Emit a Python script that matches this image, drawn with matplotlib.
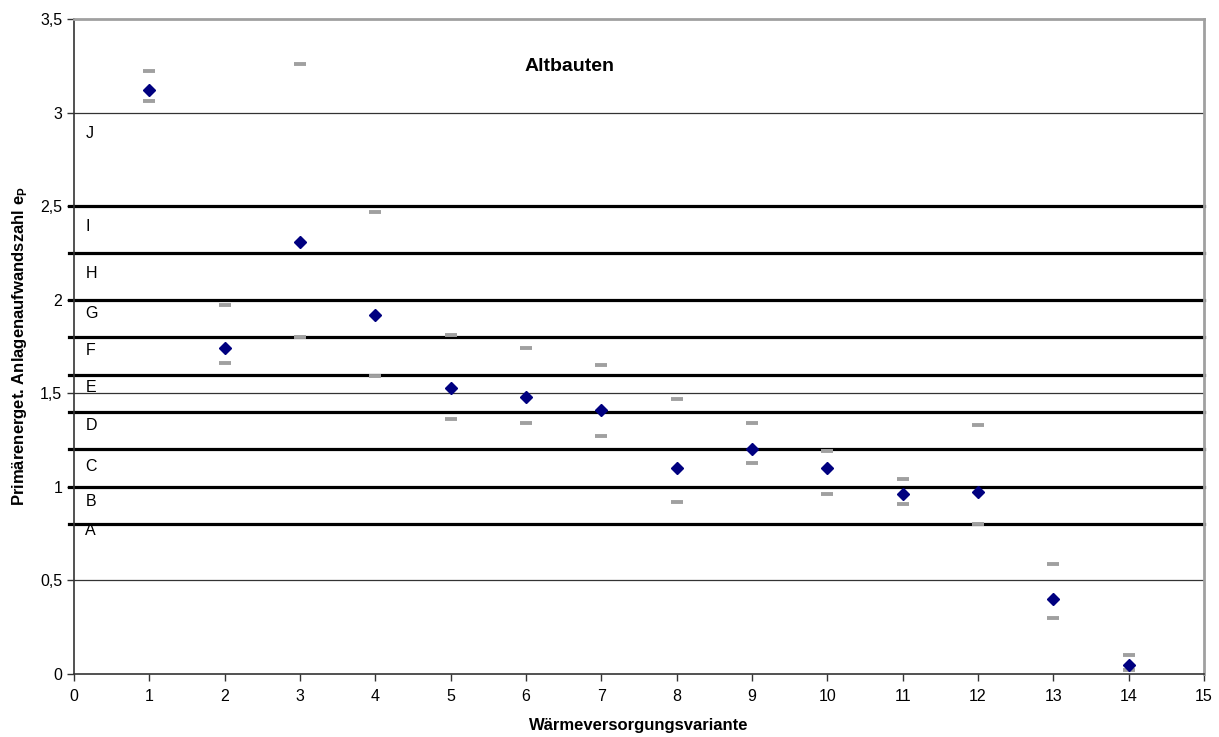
import matplotlib.pyplot as plt

plt.rcParams["font.family"] = ["Liberation Sans", "DejaVu Sans"]
plt.rcParams["mathtext.fontset"] = "custom"
plt.rcParams["mathtext.bf"] = "Liberation Sans:bold"

# Wärmeversorgungsvarianten and primary energy factors
variants = [1, 2, 3, 4, 5, 6, 7, 8, 9, 10, 11, 12, 13, 14]
ep_mean = [3.12, 1.74, 2.31, 1.92, 1.53, 1.48, 1.41, 1.10, 1.20, 1.10, 0.96, 0.97, 0.40, 0.05]
ep_max = [3.22, 1.97, 3.26, 2.47, 1.81, 1.74, 1.65, 1.47, 1.34, 1.19, 1.04, 1.33, 0.59, 0.10]
ep_min = [3.06, 1.66, 1.80, 1.59, 1.36, 1.34, 1.27, 0.92, 1.13, 0.96, 0.91, 0.80, 0.30, 0.02]

# efficiency class limits and labels
class_limits = [0.8, 1.0, 1.2, 1.4, 1.6, 1.8, 2.0, 2.25, 2.5]
class_names = ["A", "B", "C", "D", "E", "F", "G", "H", "I", "J"]
class_label_y = [0.765, 0.92, 1.11, 1.33, 1.53, 1.73, 1.925, 2.14, 2.39, 2.89]

fig = plt.figure(figsize=(12.19, 7.37), dpi=100)
ax = fig.add_axes([74 / 1219, 63 / 737, 1130 / 1219, 655 / 737])

ax.set_xlim(0, 15)
ax.set_ylim(0, 3.5)
ax.set_xticks(range(0, 16))
ax.set_yticks([0, 0.5, 1, 1.5, 2, 2.5, 3, 3.5])
ax.set_yticklabels(["0", "0,5", "1", "1,5", "2", "2,5", "3", "3,5"])
ax.tick_params(direction="out", length=5, width=1, labelsize=11.5, color="#333333")
ax.tick_params(axis="x", pad=6)

# thin grid
for y in [0.5, 1, 1.5, 2, 2.5, 3]:
    ax.axhline(y, color="#333333", lw=0.9, zorder=1)

# thick class limit lines
for y in class_limits:
    ax.axhline(y, xmin=-0.004, color="black", lw=2.3, zorder=2, clip_on=False)

for name, y in zip(class_names, class_label_y):
    ax.text(0.15, y, name, fontsize=11.5, va="center", ha="left")

ax.plot(variants, ep_max, ls="none", marker="_", ms=8, mew=2.8, color="#a0a0a0", zorder=3)
ax.plot(variants, ep_min, ls="none", marker="_", ms=8, mew=2.8, color="#a0a0a0", zorder=3)
ax.plot(variants, ep_mean, ls="none", marker="D", ms=6.5, color="#000080", zorder=4)

ax.text(6.58, 3.244, "Altbauten", fontsize=14, fontweight="bold", ha="center", va="center")

ax.set_xlabel("Wärmeversorgungsvariante", fontsize=12, fontweight="bold", labelpad=10)
ax.set_ylabel(r"Primärenerget. Anlagenaufwandszahl e$_\mathbf{P}$", fontsize=12,
              fontweight="bold", labelpad=8)

for side in ["top", "right"]:
    ax.spines[side].set_color("#a0a0a0")
    ax.spines[side].set_linewidth(2)
for side in ["left", "bottom"]:
    ax.spines[side].set_color("#333333")
    ax.spines[side].set_linewidth(1.2)

fig.savefig("out.png", dpi=100)
